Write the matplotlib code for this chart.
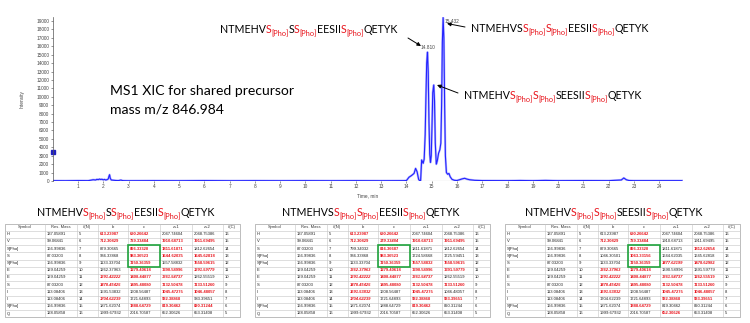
import matplotlib.pyplot as plt
from matplotlib.patches import Rectangle

W, H = 750, 323
FONT = "Lato"
UI_FONT = "Liberation Sans"
RED = "#e8141c"
BLUE = "#2323ff"

# ---- XIC trace (time in min, intensity in counts)
xic_time = [0.0, 0.5, 1.0, 1.4, 1.5, 1.6, 1.7, 1.75, 1.8, 1.85, 1.9, 1.95, 2.0,
            2.05, 2.1, 2.15, 2.2, 2.22, 2.25, 2.28, 2.32, 2.4, 2.5, 2.6, 2.7,
            2.75, 2.8, 3.0, 4.0, 5.0, 6.0, 7.0, 8.0, 9.0, 10.0, 11.0, 12.0,
            13.0, 13.9, 14.0, 14.1, 14.2, 14.3, 14.36, 14.42, 14.48, 14.52,
            14.56, 14.6, 14.66, 14.7, 14.74, 14.77, 14.8, 14.83, 14.86, 14.89,
            14.92, 14.95, 14.98, 15.01, 15.04, 15.08, 15.11, 15.14, 15.18,
            15.22, 15.27, 15.32, 15.36, 15.39, 15.42, 15.45, 15.48, 15.51,
            15.54, 15.58, 15.63, 15.68, 15.73, 15.8, 15.9, 16.0, 16.1, 16.2,
            16.3, 16.4, 16.5, 16.7, 17.0, 18.0, 18.5, 19.0, 19.5, 20.0, 21.0,
            22.0, 22.5, 22.6, 22.7, 22.8, 23.0, 24.0, 24.9]
xic_intensity = [40, 30, 50, 40, 90, 150, 120, 200, 160, 230, 180, 210, 140,
                 190, 120, 160, 250, 500, 750, 300, 120, 90, 60, 50, 110,
                 60, 40, 30, 40, 30, 50, 30, 40, 30, 40, 30, 40,
                 30, 40, 60, 450, 650, 900, 1500, 1100, 200, 50,
                 60, 2500, 2100, 2600, 5500, 10000, 14000, 15300, 13000, 7000,
                 3200, 2200, 3000, 6500, 10500, 11400, 9500, 4500, 2000,
                 2400, 3300, 3700, 4500, 9000, 16500, 19400, 17000, 9000,
                 3000, 1000, 800, 900, 500, 200, 80, 60, 150, 250,
                 320, 220, 150, 80, 50, 40, 60, 40, 70, 40, 50,
                 40, 120, 360, 150, 60, 40, 40, 40]

peak_times = [14.83, 15.45]
peak_heights = [15300, 19400]
peak_labels = ["14.810", "15.432"]

y_ticks = list(range(0, 19001, 1000))
x_ticks = list(range(1, 25))

# peptide strings, "*" marks a phospho serine
peptides = ["NTMEHVS*SS*EESIIS*QETYK",
            "NTMEHVSS*S*EESIIS*QETYK",
            "NTMEHVS*S*SEESIIS*QETYK"]
xic_title = ["MS1 XIC for shared precursor", "mass m/z 846.984"]

# ---- fragment tables
headers = ["Symbol", "Res. Mass", "#(N)", "b", "c", "z+1", "z+2", "#(C)"]
res_mass = {"H": 137.05891, "V": 99.06841, "S[Pho]": 166.99836, "S": 87.03203,
            "E": 129.04259, "I": 113.08406, "Q": 128.05858}
n_num = list(range(5, 17))
c_num = list(range(16, 4, -1))

t1_symbols = ["H", "V", "S[Pho]", "S", "S[Pho]", "E", "E", "S", "I", "I", "S[Pho]", "Q"]
t1_b = [613.23987, 712.30829, 879.30665, 966.33868, 1133.33704, 1262.37963,
        1391.42222, 1478.45425, 1591.53832, 1704.62239, 1871.62074, 1999.67932]
t1_c = [630.26642, 729.33484, 896.33320, 983.36523, 1150.36359, 1279.40618,
        1408.44877, 1495.48080, 1608.56487, 1721.64893, 1888.64729, 2016.70587]
t1_z1 = [2047.74604, 1910.68713, 1811.61871, 1644.62035, 1557.58832, 1390.58996,
         1261.54737, 1132.50478, 1045.47275, 932.38868, 819.30462, 652.30626]
t1_z2 = [2048.75386, 1911.69495, 1812.62654, 1645.62818, 1558.59615, 1391.59779,
         1262.55519, 1133.51260, 1046.48057, 933.39651, 820.31244, 653.31408]
# r = matched (red bold), i = red italic, k = unmatched (black)
t1_marks = ["rrkk", "rrrr", "krrk", "krrr", "krkr", "krri",
            "irik", "irrr", "kkrr", "ikrk", "krrr", "kkkk"]

t2_symbols = ["H", "V", "S", "S[Pho]", "S[Pho]", "E", "E", "S", "I", "I", "S[Pho]", "Q"]
t2_b = [613.23987, 712.30829, 799.34032, 966.33868, 1133.33704, 1262.37963,
        1391.42222, 1478.45425, 1591.53832, 1704.62239, 1871.62074, 1999.67932]
t2_c = [630.26642, 729.33484, 816.36687, 983.36523, 1150.36359, 1279.40618,
        1408.44877, 1495.48080, 1608.56487, 1721.64893, 1888.64729, 2016.70587]
t2_z1 = [2047.74604, 1910.68713, 1811.61871, 1724.58668, 1557.58832, 1390.58996,
         1261.54737, 1132.50478, 1045.47275, 932.38868, 819.30462, 652.30626]
t2_z2 = [2048.75386, 1911.69495, 1812.62654, 1725.59451, 1558.59615, 1391.59779,
         1262.55519, 1133.51260, 1046.48057, 933.39651, 820.31244, 653.31408]
t2_marks = ["rrkk", "rirr", "krkk", "krkk", "krrr", "irrr",
            "irik", "irrr", "ikrk", "ikrr", "kkrk", "kkkk"]

t3_symbols = ["H", "V", "S[Pho]", "S[Pho]", "S", "E", "E", "S", "I", "I", "S[Pho]", "Q"]
t3_b = [613.23987, 712.30829, 879.30665, 1046.30501, 1133.33704, 1262.37963,
        1391.42222, 1478.45425, 1591.53832, 1704.62239, 1871.62074, 1999.67932]
t3_c = [630.26642, 729.33484, 896.33320, 1063.33156, 1150.36359, 1279.40618,
        1408.44877, 1495.48080, 1608.56487, 1721.64893, 1888.64729, 2016.70587]
t3_z1 = [2047.74604, 1910.68713, 1811.61871, 1644.62035, 1477.62199, 1390.58996,
         1261.54737, 1132.50478, 1045.47275, 932.38868, 819.30462, 652.30626]
t3_z2 = [2048.75386, 1911.69495, 1812.62654, 1645.62818, 1478.62982, 1391.59779,
         1262.55519, 1133.51260, 1046.48057, 933.39651, 820.31244, 653.31408]
t3_marks = ["krkk", "rrkk", "krkr", "krkk", "krir", "irkk",
            "irir", "irrr", "ikrr", "kkrr", "krkk", "kkrk"]

tables = [
    (t1_symbols, t1_b, t1_c, t1_z1, t1_z2, t1_marks),
    (t2_symbols, t2_b, t2_c, t2_z1, t2_z2, t2_marks),
    (t3_symbols, t3_b, t3_c, t3_z1, t3_z2, t3_marks),
]
boxed_rows = [2, 3, 4]  # rows framed in green in the c column


def peptide_parts(seq):
    parts = []
    plain = ""
    i = 0
    while i < len(seq):
        if i + 1 < len(seq) and seq[i + 1] == "*":
            if plain:
                parts.append((plain, "black", False))
                plain = ""
            parts.append((seq[i], RED, False))
            parts.append(("[Pho]", RED, True))
            i += 2
        else:
            plain += seq[i]
            i += 1
    if plain:
        parts.append((plain, "black", False))
    return parts


def rich_text(ax, x, y, parts, size, renderer):
    # x, y in figure pixels (y downwards), y is the baseline
    for s, color, sub in parts:
        fs = size * 0.7 if sub else size
        dy = size * 0.45 if sub else 0
        t = ax.text(x, y + dy, s, color=color, fontsize=fs, family=FONT,
                    ha="left", va="baseline")
        x += t.get_window_extent(renderer).width - 0.2


fig = plt.figure(figsize=(W / 100, H / 100), dpi=100)

# ---- chromatogram
x0, x_end, y0, y_top = 52.7, 683, 181, 17
ax = fig.add_axes([x0 / W, (H - y0) / H, (x_end - x0) / W, (y0 - y_top) / H])
ax.set_facecolor("none")
ax.plot(xic_time, xic_intensity, color="#8c8cff", lw=1.6, alpha=0.6)
ax.plot(xic_time, xic_intensity, color=BLUE, lw=0.8)
ax.axhline(0, color="#9a9a9a", lw=0.8, zorder=0)
ax.plot([0], [3400], marker="s", ms=2.5, color="#2020c0", clip_on=False)
ax.set_xlim(0, (x_end - x0) / 25.27)
ax.set_ylim(0, 19000 * (y0 - y_top) / 160)
ax.set_yticks(y_ticks)
ax.set_xticks(x_ticks)
ax.tick_params(labelsize=3.4, length=1.5, width=0.4, pad=1, colors="#444444")
for lbl in ax.get_xticklabels() + ax.get_yticklabels():
    lbl.set_family(UI_FONT)
for side in ["top", "right"]:
    ax.spines[side].set_visible(False)
ax.spines["left"].set_linewidth(0.5)
ax.spines["left"].set_color("#555555")
ax.spines["bottom"].set_visible(False)
ax.set_ylabel("Intensity", fontsize=3.4, family=UI_FONT, color="#444444")
ax.yaxis.set_label_coords(-0.044, 0.5)
ax.set_xlabel("Time, min", fontsize=3.4, family=UI_FONT, color="#444444")
ax.xaxis.set_label_coords(0.5, -0.075)
ax.annotate(peak_labels[0], (peak_times[0], peak_heights[0]), xytext=(0, 1.5),
            textcoords="offset points", ha="center", va="bottom",
            fontsize=3.4, family=UI_FONT, color="#444444")
ax.annotate(peak_labels[1], (peak_times[1], peak_heights[1]), xytext=(1, -3),
            textcoords="offset points", ha="left", va="center",
            fontsize=3.4, family=UI_FONT, color="#444444")

# ---- overlay in pixel coordinates for labels and tables
ov = fig.add_axes([0, 0, 1, 1])
ov.set_xlim(0, W)
ov.set_ylim(H, 0)
ov.axis("off")
ov.patch.set_visible(False)
renderer = fig.canvas.get_renderer()

pep_size = 7.7
rich_text(ov, 220, 33, peptide_parts(peptides[0]), pep_size, renderer)
rich_text(ov, 471, 31.5, peptide_parts(peptides[1]), pep_size, renderer)
rich_text(ov, 464, 99, peptide_parts(peptides[2]), pep_size, renderer)
ov.text(110, 95, xic_title[0], fontsize=10.1, family=FONT, va="baseline")
ov.text(110, 113.5, xic_title[1], fontsize=10.1, family=FONT, va="baseline")

arrow = dict(arrowstyle="-|>", color="black", lw=0.7, mutation_scale=5.5,
             shrinkA=0, shrinkB=0)
ov.annotate("", xy=(421, 46), xytext=(408, 38), arrowprops=arrow)
ov.annotate("", xy=(447, 23.5), xytext=(465, 27), arrowprops=arrow)
ov.annotate("", xy=(437, 85), xytext=(458, 93), arrowprops=arrow)

col_edges = [0, 40, 72, 93, 123, 155, 187, 218, 235]
table_lefts = [5, 255, 505]
title_lefts = [37, 282, 525]
row_top, row_h = 223.5, 7.2
code_style = {"r": (RED, "bold", "normal"), "i": (RED, "bold", "italic"),
              "k": ("#222222", "normal", "normal")}

for k, (symbols, bv, cv, z1v, z2v, marks) in enumerate(tables):
    left = table_lefts[k]
    rich_text(ov, title_lefts[k], 216, peptide_parts(peptides[k]), pep_size, renderer)
    n_rows = len(symbols) + 1
    bottom = row_top + n_rows * row_h
    for r in range(n_rows + 1):
        ov.plot([left, left + col_edges[-1]], [row_top + r * row_h] * 2,
                color="#c4c4c4", lw=0.4)
    for e in col_edges:
        ov.plot([left + e, left + e], [row_top, bottom], color="#c4c4c4", lw=0.4)
    ov.add_patch(Rectangle((left, row_top), col_edges[-1], bottom - row_top,
                           fill=False, ec="#9a9a9a", lw=0.5))
    for j, h in enumerate(headers):
        cx = left + (col_edges[j] + col_edges[j + 1]) / 2
        ov.text(cx, row_top + row_h / 2, h, fontsize=3.0, family=UI_FONT,
                ha="center", va="center", color="#333333")
    for i, sym in enumerate(symbols):
        cy = row_top + (i + 1.5) * row_h
        cells = [sym, f"{res_mass[sym]:.5f}", str(n_num[i]), f"{bv[i]:.5f}",
                 f"{cv[i]:.5f}", f"{z1v[i]:.5f}", f"{z2v[i]:.5f}", str(c_num[i])]
        for j, txt in enumerate(cells):
            color, weight, style = code_style["k"]
            if 3 <= j <= 6:
                color, weight, style = code_style[marks[i][j - 3]]
            ov.text(left + col_edges[j] + 2, cy, txt, fontsize=3.0,
                    family=UI_FONT, ha="left", va="center", color=color,
                    fontweight=weight, fontstyle=style)
    ov.add_patch(Rectangle((left + col_edges[4], row_top + (boxed_rows[0] + 1) * row_h),
                           col_edges[5] - col_edges[4], len(boxed_rows) * row_h,
                           fill=False, ec="#1fa33c", lw=1.2, zorder=5))

fig.savefig("out.png", dpi=100)
